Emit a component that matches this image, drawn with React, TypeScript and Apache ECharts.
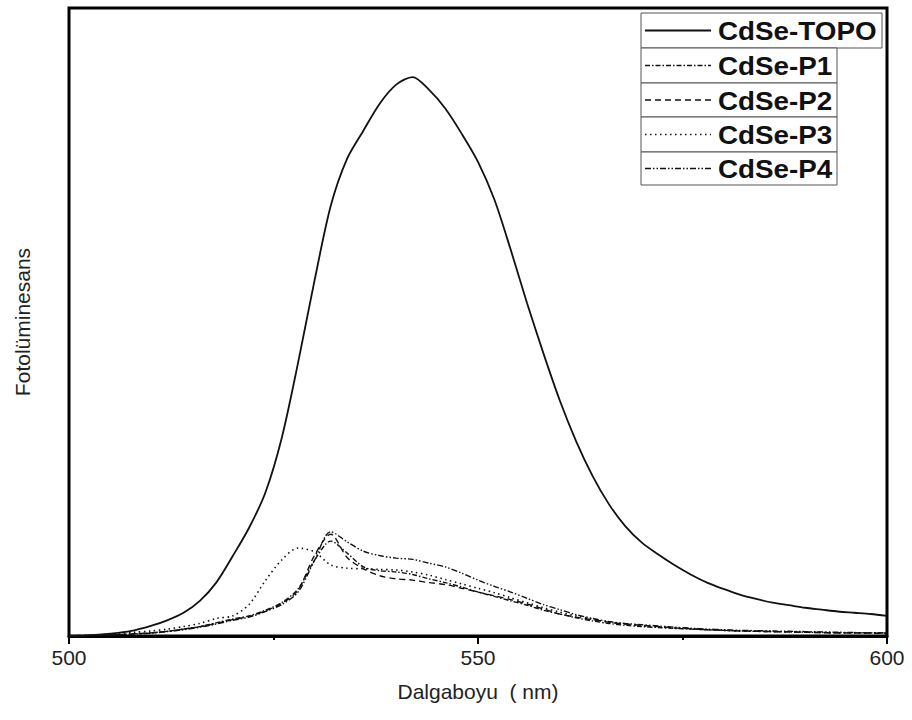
import React, { useEffect, useRef } from "react";
import * as echarts from "echarts";

const wavelengths = [500, 502, 504, 506, 508, 510, 512, 514, 516, 518, 520, 522, 524, 526, 528, 530, 532, 534, 536, 538, 540, 542, 544, 546, 548, 550, 552, 554, 556, 558, 560, 562, 564, 566, 568, 570, 572, 574, 576, 578, 580, 582, 584, 586, 588, 590, 592, 594, 596, 598, 600];

const topo = [0, 0.1, 0.25, 0.5, 0.9, 1.6, 2.5, 3.7, 5.6, 8.5, 12.7, 17.2, 22.8, 31.5, 43.5, 56.5, 68.5, 76, 80.5, 84.8, 87.8, 89, 87, 84, 80, 75.5, 69.5, 61.5, 53, 45, 37.5, 31, 25.5, 21, 17.5, 14.9, 13, 11.3, 9.8, 8.5, 7.5, 6.6, 5.9, 5.3, 4.9, 4.5, 4.2, 3.9, 3.7, 3.5, 3.2];
const p1 = [0, 0.05, 0.1, 0.2, 0.35, 0.5, 0.75, 1.1, 1.5, 2.1, 2.7, 3.2, 4.1, 5.3, 7.5, 12.0, 15.1, 13.2, 11.0, 10.4, 10.2, 9.8, 9.1, 8.5, 7.8, 7.0, 6.3, 5.6, 4.9, 4.1, 3.5, 2.9, 2.4, 2.0, 1.7, 1.5, 1.35, 1.2, 1.1, 1.0, 0.9, 0.8, 0.75, 0.7, 0.65, 0.6, 0.55, 0.5, 0.5, 0.5, 0.5];
const p2 = [0, 0.05, 0.1, 0.2, 0.35, 0.5, 0.75, 1.1, 1.5, 2.0, 2.6, 3.1, 4.0, 5.2, 7.3, 12.8, 16.2, 12.5, 10.7, 9.6, 9.1, 8.9, 8.5, 8.2, 7.6, 7.0, 6.4, 5.8, 5.1, 4.3, 3.5, 3.0, 2.6, 2.2, 1.9, 1.7, 1.5, 1.3, 1.15, 1.0, 0.9, 0.8, 0.75, 0.7, 0.65, 0.6, 0.55, 0.5, 0.5, 0.45, 0.4];
const p3 = [0, 0.1, 0.2, 0.4, 0.6, 0.8, 1.1, 1.5, 2.0, 2.8, 3.2, 5.0, 8.8, 12.1, 14.0, 13.4, 11.3, 10.8, 10.7, 10.6, 10.5, 10.2, 9.7, 9.0, 8.3, 7.6, 6.9, 6.1, 5.3, 4.5, 3.8, 3.2, 2.7, 2.2, 1.9, 1.6, 1.45, 1.3, 1.15, 1.0, 0.9, 0.8, 0.75, 0.7, 0.65, 0.6, 0.55, 0.5, 0.5, 0.5, 0.5];
const p4 = [0, 0.05, 0.1, 0.2, 0.3, 0.45, 0.7, 1.0, 1.4, 1.9, 2.5, 3.0, 3.9, 5.0, 7.0, 12.0, 16.6, 15.0, 13.5, 12.8, 12.4, 12.2, 11.6, 11.0, 10.0, 8.9, 7.9, 7.0, 6.0, 5.0, 4.2, 3.4, 2.8, 2.3, 2.0, 1.8, 1.6, 1.4, 1.25, 1.1, 1.0, 0.9, 0.85, 0.8, 0.75, 0.7, 0.65, 0.6, 0.55, 0.5, 0.5];

const seriesNames = ["CdSe-TOPO", "CdSe-P1", "CdSe-P2", "CdSe-P3", "CdSe-P4"];
const seriesValues = [topo, p1, p2, p3, p4];
const xTickLabels = ["500", "550", "600"];

const dashes: (number[] | null)[] = [null, [5, 2, 1.5, 2], [6, 4], [1.5, 3.5], [6, 2, 1.5, 2, 1.5, 2]];
const widths = [1.8, 1.4, 1.4, 1.6, 1.4];

export default function App() {
  const ref = useRef<HTMLDivElement>(null);
  useEffect(() => {
    if (!ref.current) return;
    const chart = echarts.init(ref.current, null, { renderer: "svg" });
    const font = "'Liberation Sans', Arial, sans-serif";

    const legendGraphics: any[] = [];
    const left = 641;
    const rowTop = [13, 48, 83, 117, 152];
    const rowBottom = [48, 83, 117, 152, 185];
    seriesNames.forEach((name, i) => {
      const right = i === 0 ? 882 : 837;
      legendGraphics.push({
        type: "rect",
        shape: { x: left, y: rowTop[i], width: right - left, height: rowBottom[i] - rowTop[i] },
        style: { fill: "#fff", stroke: "#555", lineWidth: 1 },
        z: 100,
      });
      const cy = (rowTop[i] + rowBottom[i]) / 2;
      legendGraphics.push({
        type: "line",
        shape: { x1: 645, y1: cy, x2: 711, y2: cy },
        style: { stroke: "#111", lineWidth: widths[i], lineDash: dashes[i] || undefined },
        z: 101,
      });
      legendGraphics.push({
        type: "text",
        x: 718,
        y: cy + 1,
        scaleX: 1.07,
        style: {
          text: name,
          font: `bold 26px ${font}`,
          fill: "#111",
          verticalAlign: "middle",
          align: "left",
        },
        z: 101,
      });
    });

    chart.setOption({
      animation: false,
      backgroundColor: "#fff",
      grid: {
        left: 69,
        right: 25,
        top: 8,
        bottom: 84,
        show: true,
        borderColor: "#000",
        borderWidth: 3,
        backgroundColor: "transparent",
      },
      xAxis: {
        type: "value",
        min: 500,
        max: 600,
        interval: 50,
        name: "Dalgaboyu  ( nm)",
        nameLocation: "middle",
        nameGap: 45,
        nameTextStyle: { fontSize: 21, color: "#222", fontFamily: font },
        axisLine: { show: true, lineStyle: { color: "#000", width: 3 } },
        axisTick: { show: true, length: 8, lineStyle: { color: "#000", width: 2 } },
        minorTick: { show: true, splitNumber: 2, length: 4, lineStyle: { color: "#000", width: 2 } },
        splitLine: { show: false },
        axisLabel: {
          fontSize: 21,
          color: "#222",
          fontFamily: font,
          margin: 11,
          formatter: (v: number) => (xTickLabels.includes(String(v)) ? String(v) : ""),
        },
      },
      yAxis: {
        type: "value",
        min: 0,
        max: 100,
        name: "Fotolüminesans",
        nameLocation: "middle",
        nameGap: 36,
        nameRotate: 90,
        nameTextStyle: { fontSize: 21, color: "#222", fontFamily: font },
        axisLine: { show: false },
        axisTick: { show: false },
        axisLabel: { show: false },
        splitLine: { show: false },
      },
      series: seriesNames.map((name, i) => ({
        name,
        type: "line",
        data: wavelengths.map((w, j) => [w, seriesValues[i][j]]),
        showSymbol: false,
        smooth: 0.3,
        lineStyle: {
          color: "#111",
          width: widths[i],
          type: dashes[i] ? dashes[i] : "solid",
        },
        z: 5 - i,
      })),
      graphic: legendGraphics,
    });
    return () => chart.dispose();
  }, []);
  return (
    <div
      ref={ref}
      style={{ position: "fixed", left: 0, top: 0, width: 912, height: 720 }}
    />
  );
}
